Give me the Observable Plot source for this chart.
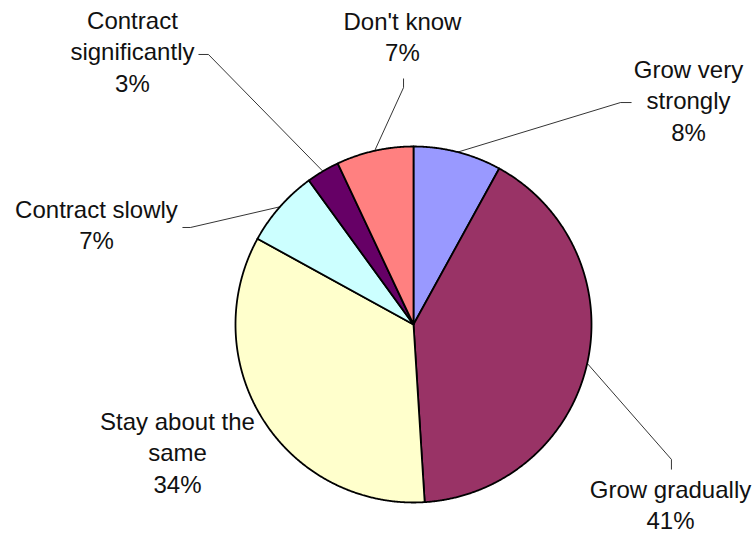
<!DOCTYPE html>
<html>
<head>
<meta charset="utf-8">
<script src="https://cdn.jsdelivr.net/npm/d3@7"></script>
<script src="https://cdn.jsdelivr.net/npm/@observablehq/plot@0.6"></script>
<style>
  html, body { margin: 0; padding: 0; background: #fff; }
  #chart svg { display: block; }
</style>
</head>
<body>
<div id="chart"></div>
<script>
// ---- data ----
const categories = ["Grow very strongly", "Grow gradually", "Stay about the same", "Contract slowly", "Contract significantly", "Don't know"];
const values = [8, 41, 34, 7, 3, 7];
const colors = ["#9999FF", "#993366", "#FFFFCC", "#CCFFFF", "#660066", "#FF8080"];
const labelLines = [
  ["Grow very", "strongly"],
  ["Grow gradually"],
  ["Stay about the", "same"],
  ["Contract slowly"],
  ["Contract", "significantly"],
  ["Don't know"]
];

// ---- layout (pie radius units, centre = 0,0, y up) ----
const W = 756, H = 534, R = 178, CX = 413, CY = 324;
const labelLayout = {
  "Grow very strongly":     {lx: 1.545,  ly: 1.513,  leader: [[1.163, 1.247], [1.225, 1.247]]},
  "Grow gradually":         {lx: 1.444,  ly: -0.846, leader: [[1.449, -0.758], [1.449, -0.815]]},
  "Stay about the same":    {lx: -1.326, ly: -0.464, leader: null},
  "Contract slowly":        {lx: -1.781, ly: 0.727,  leader: [[-1.253, 0.545], [-1.298, 0.545]]},
  "Contract significantly": {lx: -1.579, ly: 1.788,  leader: [[-1.152, 1.517], [-1.208, 1.517]]},
  "Don't know":             {lx: -0.062, ly: 1.783,  leader: [[-0.056, 1.331], [-0.056, 1.382]]}
};

const total = d3.sum(values);
const arcs = d3.pie().sort(null).value(d => d)(values);

const sliceMarks = arcs.map((a, i) => {
  const pts = [{x: 0, y: 0}];
  const n = Math.max(4, Math.ceil((a.endAngle - a.startAngle) / 0.005));
  for (let k = 0; k <= n; k++) {
    const t = a.startAngle + (a.endAngle - a.startAngle) * k / n;
    pts.push({x: Math.sin(t), y: Math.cos(t)});
  }
  pts.push({x: 0, y: 0});
  return Plot.line(pts, {x: "x", y: "y", fill: colors[i], stroke: "#000", strokeWidth: 1.8, strokeLinejoin: "round", curve: "linear"});
});

const leaders = [];
arcs.forEach((a, i) => {
  const L = labelLayout[categories[i]];
  if (!L.leader) return;
  const mid = (a.startAngle + a.endAngle) / 2;
  const pts = [{x: Math.sin(mid), y: Math.cos(mid)}, ...L.leader.map(([x, y]) => ({x, y}))];
  pts.forEach(p => leaders.push({...p, name: categories[i]}));
});

const labels = categories.map((c, i) => ({
  x: labelLayout[c].lx,
  y: labelLayout[c].ly,
  text: [...labelLines[i], `${Math.round(values[i] / total * 100)}%`].join("\n")
}));

const chart = Plot.plot({
  width: W,
  height: H,
  margin: 0,
  x: {domain: [-CX / R, (W - CX) / R], axis: null},
  y: {domain: [-(H - CY) / R, CY / R], axis: null},
  marks: [
    Plot.line(leaders, {x: "x", y: "y", z: "name", stroke: "#000", strokeWidth: 0.8, strokeLinecap: "butt"}),
    ...sliceMarks,
    Plot.text(labels, {
      x: "x", y: "y", text: "text",
      textAnchor: "middle", lineAnchor: "top", lineHeight: 1.32,
      fontSize: 24, fontFamily: "'Liberation Sans', Arial, sans-serif", fill: "#111"
    })
  ]
});
document.getElementById("chart").appendChild(chart);
</script>
</body>
</html>
